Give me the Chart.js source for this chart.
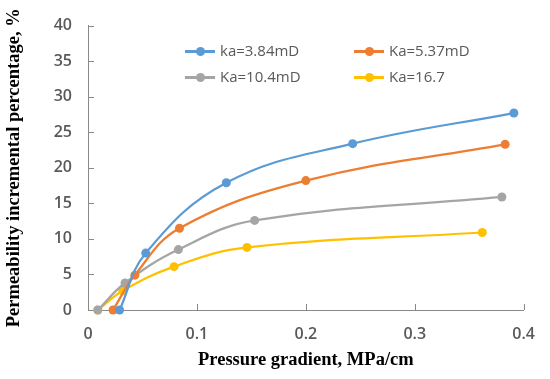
<!DOCTYPE html>
<html>
<head>
<meta charset="utf-8">
<script src="https://cdn.jsdelivr.net/npm/chart.js@4/dist/chart.umd.min.js"></script>
<style>
  html, body { margin: 0; padding: 0; background: #fff; }
  #wrap { position: relative; width: 550px; height: 379px; }
  #legend { position: absolute; left: 0; top: 0; font-family: "Open Sans", sans-serif; font-size: 15px; color: #595959; }
  .item { position: absolute; height: 20px; }
  .item .ln { position: absolute; top: 9px; left: 0; width: 30px; height: 2.5px; }
  .item .dot { position: absolute; top: 5.5px; left: 10.5px; width: 9px; height: 9px; border-radius: 50%; }
  .item .tx { position: absolute; left: 35px; top: -1px; white-space: nowrap; line-height: 20px; }
</style>
</head>
<body>
<div id="wrap">
  <canvas id="chart" width="550" height="379"></canvas>
  <div id="legend"></div>
</div>
<script>
// series data (x = pressure gradient MPa/cm, y = %)
const seriesNames = ['ka=3.84mD', 'Ka=5.37mD', 'Ka=10.4mD', 'Ka=16.7'];
const seriesColors = ['#5B9BD5', '#ED7D31', '#A5A5A5', '#FFC000'];

const x384 = [0.029, 0.053, 0.127, 0.243, 0.391];
const y384 = [0, 8.0, 17.9, 23.4, 27.7];

const x537 = [0.023, 0.043, 0.084, 0.200, 0.383];
const y537 = [0, 4.9, 11.5, 18.2, 23.3];

const x104 = [0.009, 0.034, 0.083, 0.153, 0.380];
const y104 = [0, 3.8, 8.5, 12.6, 15.9];

const x167 = [0.009, 0.032, 0.079, 0.146, 0.362];
const y167 = [0, 2.7, 6.1, 8.8, 10.9];

const xTicks = [0, 0.1, 0.2, 0.3, 0.4];
const yTicks = [0, 5, 10, 15, 20, 25, 30, 35, 40];

const xsAll = [x384, x537, x104, x167];
const ysAll = [y384, y537, y104, y167];

const axisColor = '#898989';
const tickFont = { family: 'Open Sans', size: 16, weight: '600' };
const titleFont = { family: 'Liberation Serif', size: 18.5, weight: 'bold' };

const datasets = seriesNames.map((name, i) => ({
  label: name,
  data: xsAll[i].map((x, j) => ({ x: x, y: ysAll[i][j] })),
  borderColor: seriesColors[i],
  backgroundColor: seriesColors[i],
  borderWidth: 2.25,
  pointRadius: 4.5,
  pointHoverRadius: 4.5,
  pointBorderWidth: 0,
  tension: 0.4,
  clip: false
}));

// small tick marks pointing into the plot area
const innerTicks = {
  id: 'innerTicks',
  afterDraw(chart) {
    const { ctx, chartArea, scales } = chart;
    ctx.save();
    ctx.strokeStyle = axisColor;
    ctx.lineWidth = 1;
    ctx.beginPath();
    xTicks.forEach(v => {
      if (v === 0) return;
      const px = Math.round(scales.x.getPixelForValue(v)) + 0.5;
      ctx.moveTo(px, chartArea.bottom);
      ctx.lineTo(px, chartArea.bottom - 6);
    });
    yTicks.forEach(v => {
      if (v === 0) return;
      const py = Math.round(scales.y.getPixelForValue(v)) + 0.5;
      ctx.moveTo(chartArea.left, py);
      ctx.lineTo(chartArea.left + 6, py);
    });
    ctx.stroke();
    ctx.restore();
  }
};

new Chart(document.getElementById('chart').getContext('2d'), {
  type: 'line',
  data: { datasets },
  options: {
    responsive: false,
    animation: false,
    devicePixelRatio: 1,
    layout: { padding: { left: 0, top: 25, right: 17, bottom: 0 } },
    plugins: { legend: { display: false }, tooltip: { enabled: false } },
    scales: {
      x: {
        type: 'linear',
        min: 0, max: 0.4,
        afterFit: s => { s.height = 69; },
        afterBuildTicks: s => { s.ticks = xTicks.map(v => ({ value: v })); },
        ticks: { font: tickFont, color: '#595959', padding: 15, callback: v => String(+v.toFixed(1)) },
        grid: { display: false, drawTicks: false },
        border: { display: true, color: axisColor, width: 1 },
        title: { display: true, text: 'Pressure gradient, MPa/cm', font: titleFont, color: '#000', padding: { top: 0, bottom: 8 } }
      },
      y: {
        min: 0, max: 40,
        afterFit: s => { s.width = 88; },
        afterBuildTicks: s => { s.ticks = yTicks.map(v => ({ value: v })); },
        ticks: { font: tickFont, color: '#595959', padding: 16 },
        grid: { display: false, drawTicks: false },
        border: { display: true, color: axisColor, width: 1 },
        title: { display: true, text: 'Permeability incremental percentage, %', font: titleFont, color: '#000', padding: { top: 3, bottom: 0 } }
      }
    }
  },
  plugins: [innerTicks]
});

// legend laid out in two columns inside the plot area
const legendPos = [[185, 41], [354, 41], [185, 67], [354, 67]];
const legend = document.getElementById('legend');
seriesNames.forEach((name, i) => {
  const it = document.createElement('div');
  it.className = 'item';
  it.style.left = legendPos[i][0] + 'px';
  it.style.top = legendPos[i][1] + 'px';
  it.innerHTML = `<div class="ln" style="background:${seriesColors[i]}"></div>` +
    `<div class="dot" style="background:${seriesColors[i]}"></div>` +
    `<div class="tx">${name}</div>`;
  legend.appendChild(it);
});
</script>
</body>
</html>
